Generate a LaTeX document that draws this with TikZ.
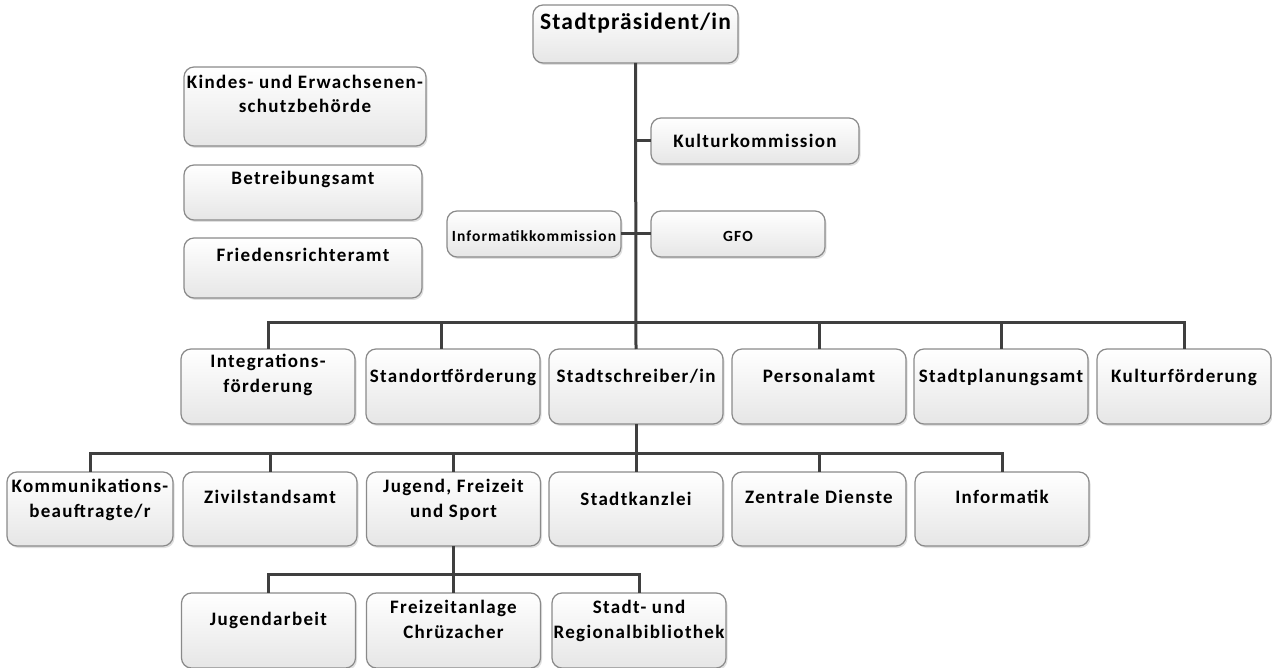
\documentclass[tikz,border=0pt]{standalone}
\usepackage{fontspec}
\setmainfont{Carlito}[LetterSpace=7]
\newfontfamily\titlefont{Carlito}[LetterSpace=5]
\usetikzlibrary{shadows}
\definecolor{conn}{HTML}{3F3F3F}
\definecolor{bord}{HTML}{8A8A8A}
\definecolor{fillbot}{HTML}{E6E6E6}
\tikzset{
  obox/.style={draw=bord, line width=1.2pt, rounded corners=10pt, top color=white, bottom color=fillbot,
    inner sep=0pt, outer sep=0pt,
    drop shadow={shadow xshift=1.5pt, shadow yshift=-2pt, fill=black, opacity=0.12}},
  otxt/.style={inner sep=0pt, font=\fontsize{19}{24.5}\selectfont\bfseries, align=center, text=black},
  smalltxt/.style={font=\fontsize{15.5}{19}\selectfont\bfseries},
  titletxt/.style={font=\titlefont\fontsize{23.5}{28}\selectfont\bfseries},
  conline/.style={draw=conn, line width=3pt}
}
% #2 name, #3 cx, #4 cy, #5 w, #6 h, #7 baseline of last line, #8 text
\newcommand\orgnode[8][]{%
  \node[obox, minimum width=#5pt, minimum height=#6pt] (#2) at (#3,#4) {};
  \node[otxt, anchor=base, #1] (#2-t) at (#3,#7) {#8};}
\begin{document}
\begin{tikzpicture}[x=1pt,y=-1pt]
\useasboundingbox (0,0) rectangle (1272,668);
\coordinate (b1) at (636,323);
\coordinate (b2) at (636,453);
\coordinate (b3) at (453.5,574);
% boxes
\orgnode[titletxt]{praes}{635.5}{34}{205}{58}{30}{Stadtpräsident/in}
\orgnode{kult}{755}{141}{208}{46}{148}{Kulturkommission}
\orgnode[smalltxt]{infk}{534}{234}{174}{46}{242}{Informatikkommission}
\orgnode[smalltxt]{gfo}{738}{234}{174}{46}{242}{GFO}
\orgnode{kesb}{305}{106.5}{242}{79}{113}{Kindes- und Erwachsenen-\\schutzbehörde}
\orgnode{betr}{303}{192.5}{238}{55}{185}{Betreibungsamt}
\orgnode{fried}{303}{268}{238}{60}{262}{Friedensrichteramt}
% row 1
\orgnode{integ}{268}{386.5}{174}{75}{392}{Integrations-\\förderung}
\orgnode{stand}{453}{386.5}{174}{75}{382}{Standortförderung}
\orgnode{stadtschr}{636}{386.5}{174}{75}{382}{Stadtschreiber/in}
\orgnode{pers}{819}{386.5}{174}{75}{382}{Personalamt}
\orgnode{stplan}{1001}{386.5}{174}{75}{382}{Stadtplanungsamt}
\orgnode{kfoerd}{1184}{386.5}{174}{75}{382}{Kulturförderung}
% row 2
\orgnode{komm}{90}{509}{166}{74}{517}{Kommunikations-\\beauftragte/r}
\orgnode{ziv}{270}{509}{174}{74}{503}{Zivilstandsamt}
\orgnode{jug}{453.5}{509}{174}{74}{517}{Jugend, Freizeit\\und Sport}
\orgnode{kanz}{636}{509}{174}{74}{505}{Stadtkanzlei}
\orgnode{zent}{819}{509}{174}{74}{503}{Zentrale Dienste}
\orgnode{inf}{1002}{509}{174}{74}{503}{Informatik}
% row 3
\orgnode{jarb}{268.5}{630.5}{174}{75}{625}{Jugendarbeit}
\orgnode{freiz}{453.5}{630.5}{174}{75}{638}{Freizeitanlage\\Chrüzacher}
\orgnode{bibl}{639}{630.5}{174}{75}{638}{Stadt- und\\Regionalbibliothek}
% connectors
\draw[conline] (praes.south) -- (stadtschr.north);
\draw[conline] (praes.south |- kult.west) -- (kult.west);
\draw[conline] (infk.east) -- (gfo.west);
\foreach \n in {integ,pers,stplan,kfoerd} \draw[conline] (b1) -| (\n.north);
\draw[conline] (b1) -| ([xshift=-12pt]stand.north);
\draw[conline] (stadtschr.south) -- (kanz.north);
\foreach \n in {komm,ziv,jug,zent,inf} \draw[conline] (b2) -| (\n.north);
\draw[conline] (jug.south) -- (freiz.north);
\foreach \n in {jarb,bibl} \draw[conline] (b3) -| (\n.north);
\end{tikzpicture}
\end{document}
